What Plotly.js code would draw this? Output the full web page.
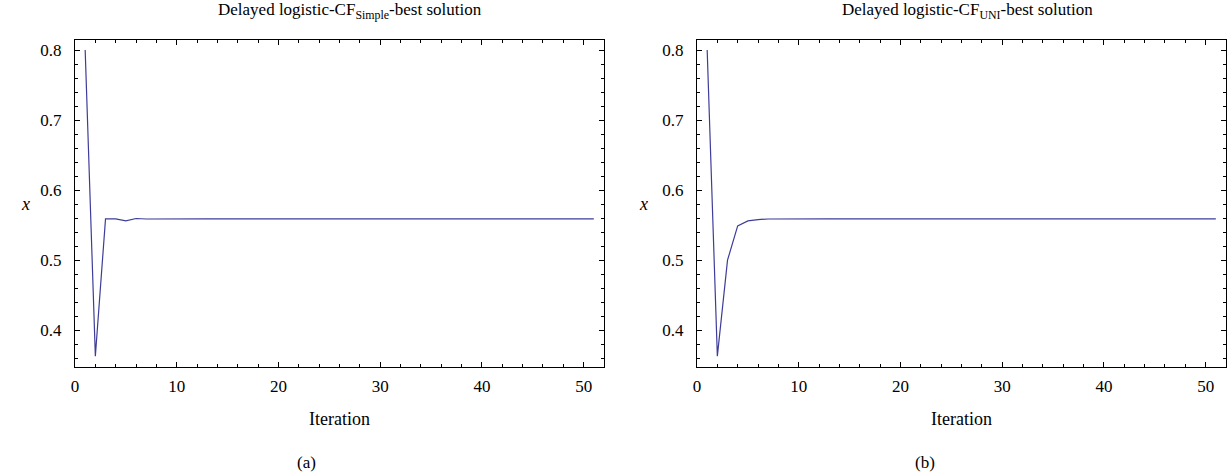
<!DOCTYPE html>
<html>
<head>
<meta charset="utf-8">
<script src="https://cdn.plot.ly/plotly-3.0.1.min.js"></script>
<style>html,body{margin:0;padding:0;background:#fff;}#chart{width:1229px;height:472px;}</style>
</head>
<body>
<div id="chart"></div>
<script>
// Iteration numbers (1..51)
const iterations = [1,2,3,4,5,6,7,8,9,10,11,12,13,14,15,16,17,18,19,20,21,22,23,24,25,26,27,28,29,30,31,32,33,34,35,36,37,38,39,40,41,42,43,44,45,46,47,48,49,50,51];
// Best solution x, Delayed logistic CF_Simple
const xSimple = [0.800,0.363,0.559,0.559,0.556,0.5595,0.5588,0.559,0.559,0.559,0.559,0.559,0.559,0.559,0.559,0.559,0.559,0.559,0.559,0.559,0.559,0.559,0.559,0.559,0.559,0.559,0.559,0.559,0.559,0.559,0.559,0.559,0.559,0.559,0.559,0.559,0.559,0.559,0.559,0.559,0.559,0.559,0.559,0.559,0.559,0.559,0.559,0.559,0.559,0.559,0.559];
// Best solution x, Delayed logistic CF_UNI
const xUni = [0.800,0.363,0.500,0.549,0.556,0.558,0.5588,0.559,0.559,0.559,0.559,0.559,0.559,0.559,0.559,0.559,0.559,0.559,0.559,0.559,0.559,0.559,0.559,0.559,0.559,0.559,0.559,0.559,0.559,0.559,0.559,0.559,0.559,0.559,0.559,0.559,0.559,0.559,0.559,0.559,0.559,0.559,0.559,0.559,0.559,0.559,0.559,0.559,0.559,0.559,0.559];
const xTickVals = [0,10,20,30,40,50];
const yTickVals = [0.4,0.5,0.6,0.7,0.8];
const yTickText = ['0.4','0.5','0.6','0.7','0.8'];

const W = 1229, H = 472;
const lineColor = '#3d3d99';
const serif = 'Liberation Serif, Times New Roman, serif';

function axisX(domain, anchor){
  return {
    domain: domain, anchor: anchor, range: [0, 52],
    tickvals: xTickVals, ticks: 'inside', ticklen: 5, tickcolor: '#000', tickwidth: 1,
    minor: {dtick: 2, tick0: 0, ticks: 'inside', ticklen: 3, tickcolor: '#000', tickwidth: 1},
    showline: true, linecolor: '#000', linewidth: 1, mirror: 'ticks',
    showgrid: false, zeroline: false, ticklabelstandoff: 4,
    tickfont: {family: serif, size: 17, color: '#000'},
    title: {text: 'Iteration', font: {family: serif, size: 18, color: '#000'}, standoff: 16}
  };
}
function axisY(domain, anchor){
  return {
    domain: domain, anchor: anchor, range: [0.3475, 0.8143],
    tickvals: yTickVals, ticktext: yTickText, ticks: 'inside', ticklen: 5, tickcolor: '#000', tickwidth: 1,
    minor: {dtick: 0.02, tick0: 0, ticks: 'inside', ticklen: 3, tickcolor: '#000', tickwidth: 1},
    showline: true, linecolor: '#000', linewidth: 1, mirror: 'ticks',
    showgrid: false, zeroline: false, ticklabelstandoff: 9,
    tickfont: {family: serif, size: 17, color: '#000'}
  };
}

const yDom = [1 - 367/H, 1 - 40/H];
const xDom1 = [75/W, 604/W];
const xDom2 = [697/W, 1226/W];

const traces = [
  {x: iterations, y: xSimple, type: 'scatter', mode: 'lines', line: {color: lineColor, width: 1.2}, xaxis: 'x', yaxis: 'y', showlegend: false},
  {x: iterations, y: xUni, type: 'scatter', mode: 'lines', line: {color: lineColor, width: 1.2}, xaxis: 'x2', yaxis: 'y2', showlegend: false}
];

const ann = (x, y, text, size, extra) => Object.assign({xref: 'paper', yref: 'paper', x: x/W, y: 1 - y/H, text: text, showarrow: false, xanchor: 'center', yanchor: 'middle', font: {family: serif, size: size, color: '#000'}}, extra || {});

const layout = {
  width: W, height: H,
  margin: {l: 0, r: 0, t: 0, b: 0},
  paper_bgcolor: '#fff', plot_bgcolor: '#fff',
  xaxis: axisX(xDom1, 'y'),
  yaxis: axisY(yDom, 'x'),
  xaxis2: axisX(xDom2, 'y2'),
  yaxis2: axisY(yDom, 'x2'),
  annotations: [
    ann(350, 11, 'Delayed logistic-CF<sub>Simple</sub>-best solution', 17),
    ann(967, 11, 'Delayed logistic-CF<sub>UNI</sub>-best solution', 17),
    ann(26, 204, '<i>x</i>', 18),
    ann(643, 204, '<i>x</i>', 18),
    ann(306, 462, '(a)', 17),
    ann(925, 462, '(b)', 17)
  ]
};

Plotly.newPlot('chart', traces, layout, {displayModeBar: false, staticPlot: true});
</script>
</body>
</html>
